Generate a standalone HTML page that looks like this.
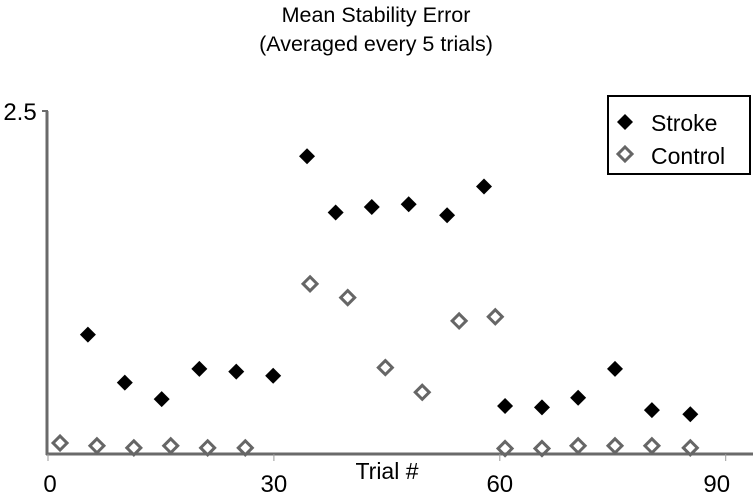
<!DOCTYPE html>
<html><head><meta charset="utf-8"><style>
body{margin:0;background:#fff;}
svg{display:block;font-family:"Liberation Sans",sans-serif;}
</style></head><body>
<svg id="chart" width="753" height="497">
<text x="376" y="22" font-size="21.5" text-anchor="middle">Mean Stability Error</text>
<text x="376" y="51" font-size="21.5" text-anchor="middle">(Averaged every 5 trials)</text>
<g id="axes"></g>
<g id="marks"></g>
<g>
<rect x="608" y="96" width="142" height="78" fill="#fff" stroke="#000" stroke-width="2"/>
<path d="M625 114 l8 8 l-8 8 l-8 -8z" fill="#000"/>
<text x="651" y="131" font-size="23">Stroke</text>
<path d="M625 147 l7 7 l-7 7 l-7 -7z" fill="none" stroke="#666" stroke-width="3"/>
<text x="651" y="164" font-size="23">Control</text>
</g>
</svg>
<script>
const strokeX=[5.3,10.2,15.1,20.1,25,29.9,34.4,38.2,43,47.9,53,57.9,60.7,65.6,70.4,75.3,80.2,85.3];
const strokeY=[0.87,0.52,0.40,0.62,0.60,0.57,2.17,1.76,1.80,1.82,1.74,1.95,0.35,0.34,0.41,0.62,0.32,0.29];
const controlX=[1.6,6.5,11.4,16.3,21.2,26.2,34.8,39.8,44.8,49.7,54.6,59.4,60.7,65.6,70.4,75.3,80.2,85.3];
const controlY=[0.08,0.06,0.045,0.06,0.045,0.045,1.24,1.14,0.63,0.45,0.97,1.00,0.04,0.04,0.06,0.06,0.06,0.045];
const xTicks=[0,30,60,90];
const yTickLabels=["2.5"];
const yTop=2.5;
const NS="http://www.w3.org/2000/svg";
const sx=v=>48+v*7.53;
const sy=v=>454-v*(343/2.5);
const axes=document.getElementById('axes'), marks=document.getElementById('marks');
function mk(tag,attrs,parent){const e=document.createElementNS(NS,tag);for(const k in attrs)e.setAttribute(k,attrs[k]);parent.appendChild(e);return e;}
let l=mk('line',{x1:47,y1:sy(yTop),x2:47,y2:455,stroke:'#6a6a6a','stroke-width':3},axes);


l=mk('line',{x1:42,y1:sy(yTop),x2:48,y2:sy(yTop),stroke:'#6a6a6a','stroke-width':2},axes);


l=mk('line',{x1:46,y1:454,x2:753,y2:454,stroke:'#6a6a6a','stroke-width':3},axes);


let t=mk('text',{x:20,y:sy(yTop)+9,'font-size':24,'text-anchor':'middle'},axes);t.textContent=yTickLabels[0];


xTicks.forEach(v=>{const x=sx(v);
 const tk=mk('line',{x1:x,y1:454,x2:x,y2:461,stroke:'#999','stroke-width':1},axes);
 
 
 const tx=mk('text',{x:x+(v===0?2:(v===90?-9:0)),y:492,'font-size':24,'text-anchor':'middle'},axes);tx.textContent=String(v);
 
 
});
t=mk('text',{x:387,y:479,'font-size':23,'text-anchor':'middle'},axes);t.textContent='Trial #';


controlX.forEach((v,i)=>{const x=sx(v),y=sy(controlY[i]);
 const p=mk('path',{d:`M${x} ${y-7} l7 7 l-7 7 l-7 -7z`,fill:'none',stroke:'#666','stroke-width':3},marks);
 
 
});
strokeX.forEach((v,i)=>{const x=sx(v),y=sy(strokeY[i]);
 const p=mk('path',{d:`M${x} ${y-8} l8 8 l-8 8 l-8 -8z`,fill:'#000'},marks);
 
 
});
</script>
</body></html>
